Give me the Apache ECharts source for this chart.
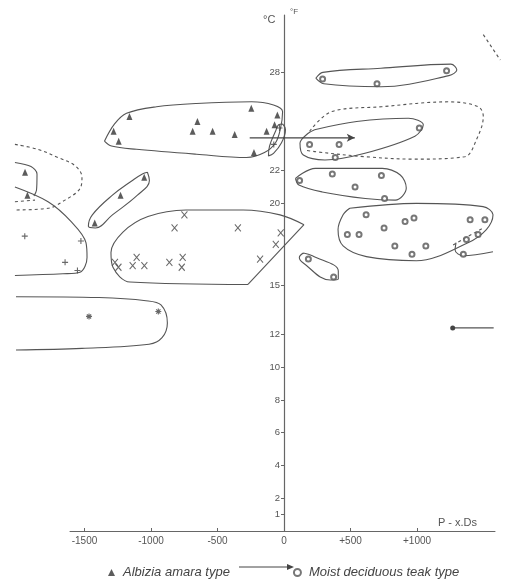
<!DOCTYPE html>
<html><head><meta charset="utf-8">
<script src="https://cdn.jsdelivr.net/npm/echarts@6/dist/echarts.min.js"></script>
<style>html,body{margin:0;padding:0;background:#fff}#c{width:507px;height:581px}</style>
</head><body><div id="c"></div>
<script>
// ---- data (x: P - x.Ds, y: temperature °C) ----
const xTicks = [-1500, -1000, -500, 0, 500, 1000];
const yTicks = [1, 2, 4, 6, 8, 10, 12, 15, 20, 22, 28];

const albizia = [[-1162,25.3],[-1281,24.4],[-1243,23.8],[-651,25.0],[-687,24.4],[-537,24.4],[-371,24.2],
  [-246,25.8],[-226,23.1],[-50,25.4],[-71,24.8],[-131,24.4],
  [-1051,21.6],[-1229,20.5],[-1423,18.8],[-1947,21.9],[-1929,20.5]];
const teak = [[290,27.6],[699,27.3],[1222,28.1],[1017,24.6],[192,23.6],[414,23.6],[385,22.8],
  [117,21.4],[363,21.8],[732,21.7],[534,21.0],[756,20.3],
  [617,19.3],[476,18.1],[564,18.1],[752,18.5],[910,18.9],[977,19.1],[833,17.4],[962,16.9],[1066,17.4],
  [1399,19.0],[1510,19.0],[1371,17.8],[1459,18.1],[1348,16.9],[183,16.6],[373,15.5]];
const crossPts = [[-749,19.3],[-823,18.5],[-347,18.5],[-25,18.2],[-62,17.5],[-180,16.6],[-1108,16.7],
  [-1138,16.2],[-1050,16.2],[-862,16.4],[-762,16.7],[-769,16.1],[-1271,16.4],[-1245,16.1]];
const plusPts = [[-1949,18.0],[-1527,17.7],[-1646,16.4],[-1553,15.9],[-34,24.6],[-77,23.6]];
const starPts = [[-1466,13.1],[-945,13.4]];
const dotLine = [[1268,12.4],[1576,12.4]];
const arrowLine = [[-258,24.0],[532,24.0]];

// enclosure outlines (data units)
const encAlbizia = [[-1350,23.8],[-1274,24.85],[-1184,25.5],[-959,25.9],[-658,26.1],[-244,26.2],[-79,26.0],[-11,25.6],
  [-26,24.6],[-64,23.7],[-147,23.1],[-282,22.8],[-658,23.0],[-1109,23.3],[-1297,23.5],[-1350,23.8]];
const encAxis = [[-11,24.85],[11,24.5],[-19,23.7],[-79,23.05],[-117,22.9],[-109,23.5],[-64,24.4],[-41,24.8],[-11,24.85]];
const encDiag = [[-1027,21.9],[-1012,21.4],[-1102,20.5],[-1290,19.3],[-1418,18.5],[-1471,18.6],[-1441,19.3],[-1290,20.5],[-1140,21.4],[-1065,21.8],[-1027,21.9]];
const encCrossCurve = [[-271,15.05],[-1158,15.2],[-1286,16.1],[-1301,17.0],[-1211,18.25],[-1023,19.2],[-737,19.6],[-308,19.6],[-30,19.3],[150,18.7]];
const encCrossEdge = [[150,18.7],[-271,15.05]];
const encPlus = [[-2023,21.0],[-1774,20.1],[-1602,18.9],[-1489,17.6],[-1481,16.7],[-1534,15.8],[-1662,15.7],[-2023,15.6]];
const encHook = [[-2023,22.5],[-1902,22.25],[-1857,21.8],[-1861,20.8],[-1880,20.45]];
const encLeftDash = [[-2023,23.6],[-1850,23.3],[-1699,22.8],[-1571,22.3],[-1519,21.6],[-1534,20.9],[-1647,20.2],[-1774,19.7],[-2023,19.6]];
const encLeftDash2 = [[-2023,20.1],[-1872,20.2]];
const encStar = [[-2015,14.3],[-1391,14.25],[-1038,14.06],[-925,13.8],[-877,12.7],[-917,11.8],[-1015,11.4],[-1519,11.15],[-2015,11.05]];
const encTeakTop = [[239,27.64],[292,28.0],[728,28.25],[1254,28.5],[1299,28.14],[1239,27.8],[728,27.12],[299,27.3],[239,27.64]];
const encTeak24 = [[230,24.5],[546,25.0],[935,25.2],[1047,24.8],[984,24.1],[608,23.06],[308,22.65],[145,22.95],[120,23.67],[182,24.28],[230,24.5]];
const encTeakDash = [[192,24.4],[357,25.6],[733,25.9],[1235,26.2],[1460,25.9],[1498,25.3],[1447,23.9],[1359,22.85],[983,22.7],[608,22.85],[232,23.16],[154,23.26]];
const encTeak21 = [[86,21.53],[235,22.14],[738,22.14],[874,21.73],[919,20.94],[836,20.2],[611,20.3],[287,20.7],[112,21.12],[86,21.53]];
const encTeak18 = [[494,19.7],[995,20.0],[1496,19.8],[1571,19.3],[1521,18.4],[1383,17.6],[995,16.5],[619,16.75],[444,17.4],[406,18.4],[444,19.3],[494,19.7]];
const encTeakHook = [[1293,17.6],[1286,17.15],[1346,16.8],[1571,17.05]];
const encTeakHookDash = [[1271,17.46],[1496,18.5]];
const encSmall = [[145,16.97],[213,16.8],[408,15.87],[408,15.38],[348,15.32],[145,16.36],[115,16.7],[145,16.97]];
const encCornerDash = [[1498,30.3],[1626,28.75]];

// plot frame: visible axes grid and a full-width drawing grid on the same scale
const PX_L = 70, PX_R = 12, PX_T = 15, PX_B = 50, W = 507;
const X_MIN = -1609, X_MAX = 1586, Y_MAX = 31.5;
const k = (W - PX_L - PX_R) / (X_MAX - X_MIN);
const X_MIN_FULL = X_MIN - PX_L / k, X_MAX_FULL = X_MAX + PX_R / k;
const zeroPx = PX_L - X_MIN * k;

function outline(data, dashed, smooth) {
  return { type: 'line', xAxisIndex: 2, yAxisIndex: 2, data: data, smooth: smooth === undefined ? 0.35 : smooth,
    showSymbol: false, symbol: 'none', clip: false, silent: true, z: 1,
    lineStyle: { color: '#555', width: 1.1, type: dashed ? [3, 3] : 'solid' } };
}
const sym = { cross: 'path://M0,0L10,12M10,0L0,12', plus: 'path://M5,0L5,10M0,5L10,5',
  star: 'path://M5,0L5,10M0,5L10,5M1.5,1.5L8.5,8.5M8.5,1.5L1.5,8.5' };
const lab = { color: '#555', fontFamily: 'Liberation Sans' };

const chart = echarts.init(document.getElementById('c'), null, { renderer: 'canvas' });
chart.setOption({
  backgroundColor: '#fff',
  animation: false,
  grid: [
    { left: PX_L, right: PX_R, top: PX_T, bottom: PX_B },
    { left: zeroPx, right: PX_R, top: PX_T, bottom: PX_B },
    { left: 0, right: 0, top: PX_T, bottom: PX_B }
  ],
  xAxis: [
    { gridIndex: 0, type: 'value', min: X_MIN, max: X_MAX, splitLine: { show: false },
      axisLine: { onZero: false, lineStyle: { color: '#666', width: 1 } },
      axisTick: { customValues: xTicks, inside: true, length: 3, lineStyle: { color: '#666' } },
      axisLabel: Object.assign({ customValues: xTicks, fontSize: 10, margin: 5,
        formatter: v => (v > 0 ? '+' + v : String(v)) }, lab),
      name: 'P - x.Ds', nameLocation: 'end', nameGap: 0,
      nameTextStyle: Object.assign({ fontSize: 11, align: 'right', verticalAlign: 'bottom', padding: [0, 18, 3, 0] }, lab) },
    { gridIndex: 1, type: 'value', min: 0, max: X_MAX, show: false },
    { gridIndex: 2, type: 'value', min: X_MIN_FULL, max: X_MAX_FULL, show: false }
  ],
  yAxis: [
    { gridIndex: 0, type: 'value', min: 0, max: Y_MAX, show: false },
    { gridIndex: 1, type: 'value', min: 0, max: Y_MAX, splitLine: { show: false },
      axisLine: { show: true, onZero: false, lineStyle: { color: '#666', width: 1.2 } },
      axisTick: { customValues: yTicks, length: 3, lineStyle: { color: '#666' } },
      axisLabel: Object.assign({ customValues: yTicks, fontSize: 9.5, margin: 4 }, lab) },
    { gridIndex: 2, type: 'value', min: 0, max: Y_MAX, show: false }
  ],
  legend: { left: 103, top: 561, itemWidth: 7, itemHeight: 7, itemGap: 63, selectedMode: false,
    data: ['Albizia amara type', 'Moist deciduous teak type'],
    textStyle: { color: '#444', fontSize: 13, fontStyle: 'italic', fontFamily: 'Liberation Sans', padding: [0, 0, 0, 3] } },
  graphic: [
    { type: 'text', left: 263, top: 14, style: { text: '°C', fill: '#555', fontSize: 11, fontFamily: 'Liberation Sans' } },
    { type: 'text', left: 290, top: 8, style: { text: '°F', fill: '#555', fontSize: 8, fontFamily: 'Liberation Sans' } },
    { type: 'line', shape: { x1: 239, y1: 567, x2: 288, y2: 567 }, style: { stroke: '#444', lineWidth: 1 } },
    { type: 'polygon', shape: { points: [[287, 564], [294, 567], [287, 570]] }, style: { fill: '#444' } }
  ],
  series: [
    outline(encAlbizia), outline(encAxis, false, 0.4), outline(encDiag, false, 0.4),
    outline(encCrossCurve), outline(encCrossEdge, false, 0), outline(encPlus), outline(encHook, false, 0.3),
    outline(encLeftDash, true), outline(encLeftDash2, true, 0), outline(encStar),
    outline(encTeakTop), outline(encTeak24), outline(encTeakDash, true), outline(encTeak21), outline(encTeak18),
    outline(encTeakHook), outline(encTeakHookDash, true, 0), outline(encSmall, false, 0.4), outline(encCornerDash, true, 0),
    { name: 'Albizia amara type', type: 'scatter', xAxisIndex: 2, yAxisIndex: 2, data: albizia, symbol: 'triangle',
      symbolSize: [6, 7], clip: false, z: 3, itemStyle: { color: '#333' } },
    { name: 'Moist deciduous teak type', type: 'scatter', xAxisIndex: 2, yAxisIndex: 2, data: teak, symbol: 'emptyCircle',
      symbolSize: 5, clip: false, z: 3, itemStyle: { color: '#555', borderWidth: 1 } },
    { name: 'cross', type: 'scatter', xAxisIndex: 2, yAxisIndex: 2, data: crossPts, symbol: sym.cross, symbolSize: [6, 7],
      clip: false, z: 3, itemStyle: { color: 'none', borderColor: '#444', borderWidth: 1.1 } },
    { name: 'plus', type: 'scatter', xAxisIndex: 2, yAxisIndex: 2, data: plusPts, symbol: sym.plus, symbolSize: 6,
      clip: false, z: 3, itemStyle: { color: 'none', borderColor: '#444', borderWidth: 1.1 } },
    { name: 'star', type: 'scatter', xAxisIndex: 2, yAxisIndex: 2, data: starPts, symbol: sym.star, symbolSize: 6,
      clip: false, z: 3, itemStyle: { color: 'none', borderColor: '#444', borderWidth: 1.1 } },
    { name: 'dot', type: 'line', xAxisIndex: 2, yAxisIndex: 2, clip: false, z: 3,
      lineStyle: { color: '#555', width: 1.1 }, itemStyle: { color: '#444' },
      data: [{ value: dotLine[0], symbol: 'circle', symbolSize: 5 }, { value: dotLine[1], symbol: 'none' }] },
    { name: 'arrow', type: 'line', xAxisIndex: 2, yAxisIndex: 2, clip: false, z: 3,
      lineStyle: { color: '#444', width: 1.1 }, itemStyle: { color: '#444' },
      data: [{ value: arrowLine[0], symbol: 'none' }, { value: arrowLine[1], symbol: 'arrow', symbolSize: [6, 8], symbolRotate: -90 }] }
  ]
});
</script></body></html>
